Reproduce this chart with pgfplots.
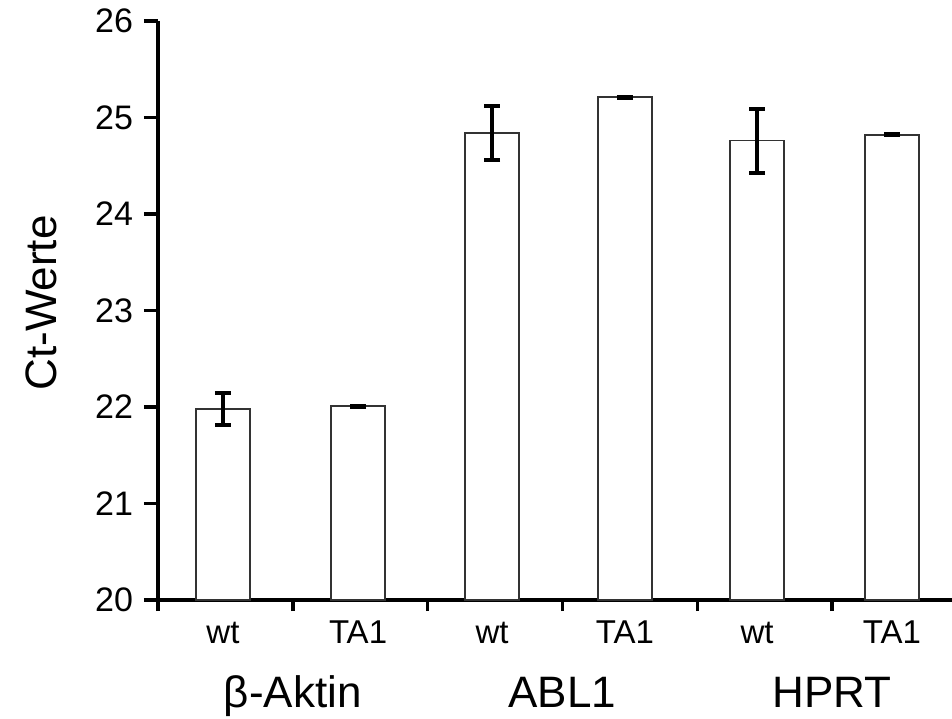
\documentclass[border=0pt]{standalone}
\usepackage{fontspec}
\setmainfont{Liberation Sans}
\usepackage{pgfplots}
\pgfplotsset{compat=1.18}

\pgfplotstableread{
x     y     e
0.982 21.98 0.17
1.984 22.01 0.005
2.978 24.84 0.28
3.964 25.21 0.005
4.944 24.76 0.33
5.945 24.82 0.005
}\ctdata

\begin{document}
\begin{tikzpicture}
\begin{axis}[
    scale only axis,
    width=397pt, height=289.5pt,
    xmin=0.5, xmax=6.39,
    ymin=20, ymax=26,
    axis x line=bottom, axis y line=left,
    axis line style={-, line width=1.7pt},
    tick align=outside,
    xtick=\empty,
    extra x ticks={0.5,1.5,2.5,3.5,4.5,5.5},
    extra x tick labels={,,,,,},
    extra tick style={major tick length=5.5pt, tick style={line width=1.7pt, black}},
    ytick={20,21,...,26},
    tick style={line width=1.7pt, black},
    major tick length=7pt,
    /pgf/number format/assume math mode=true,
    yticklabel style={font=\fontsize{17}{20}\selectfont, xshift=-2pt},
    ylabel={Ct-Werte},
    every axis y label/.style={at={(axis description cs:-0.128,0.513)},
        rotate=90, anchor=base, font=\fontsize{22}{26}\selectfont},
    ybar, bar width=0.4,
]
\addplot[draw=black!80, line width=0.8pt, fill=white,
    error bars/.cd, y dir=both, y explicit,
    error bar style={line width=2pt, black},
    error mark options={rotate=90, mark size=4pt, line width=2pt, black}]
    table[x=x, y=y, y error=e] {\ctdata};

\coordinate (bl) at (rel axis cs:0,0);
\coordinate (tr) at (rel axis cs:1,1);
\coordinate (s1) at (axis cs:0.982,19.554);
\coordinate (s2) at (axis cs:1.984,19.554);
\coordinate (s3) at (axis cs:2.978,19.554);
\coordinate (s4) at (axis cs:3.964,19.554);
\coordinate (s5) at (axis cs:4.944,19.554);
\coordinate (s6) at (axis cs:5.945,19.554);
\coordinate (g1) at (axis cs:1.5,18.881);
\coordinate (g2) at (axis cs:3.5,18.881);
\coordinate (g3) at (axis cs:5.5,18.881);
\end{axis}

\begin{scope}[every node/.style={anchor=base, inner sep=0pt, font=\fontsize{16.5}{19}\selectfont}]
\node at (s1) {wt};
\node at (s2) {TA1};
\node at (s3) {wt};
\node at (s4) {TA1};
\node at (s5) {wt};
\node at (s6) {TA1};
\end{scope}
\begin{scope}[every node/.style={anchor=base, inner sep=0pt, font=\fontsize{22}{26}\selectfont}]
\node at (g1) {β-Aktin};
\node at (g2) {ABL1};
\node at (g3) {HPRT};
\end{scope}

\pgfresetboundingbox
\useasboundingbox ([xshift=-79pt,yshift=-59pt]bl) rectangle ([yshift=10.5pt]tr);
\end{tikzpicture}
\end{document}
